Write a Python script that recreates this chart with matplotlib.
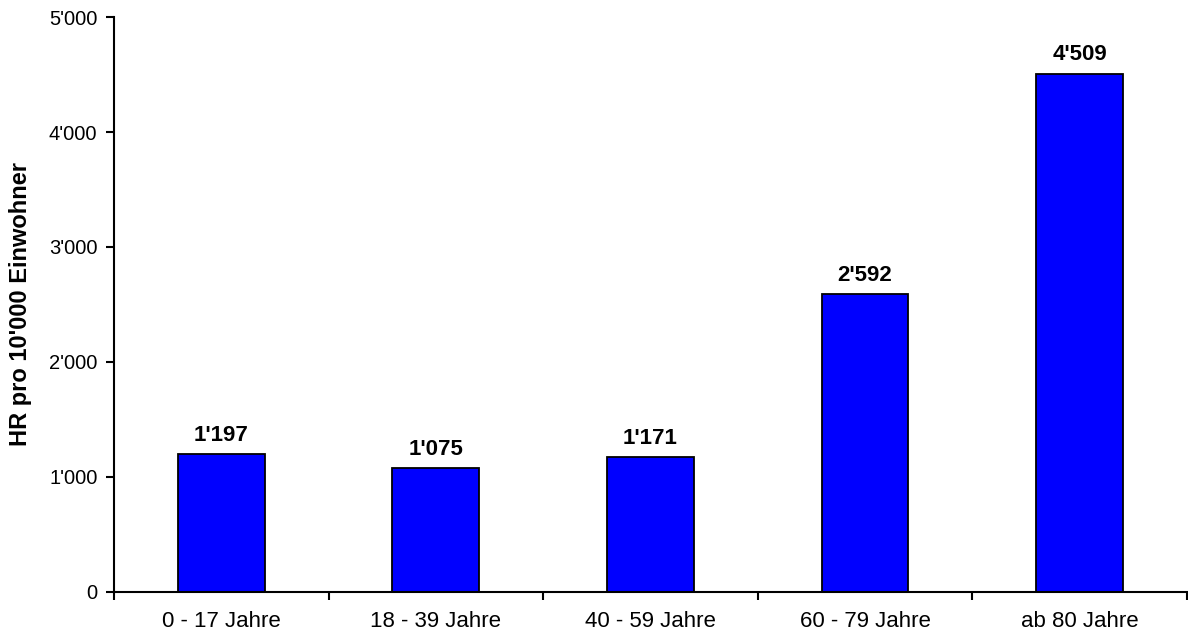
import matplotlib.pyplot as plt
from matplotlib.ticker import FuncFormatter

plt.rcParams['font.family'] = ['Liberation Sans', 'DejaVu Sans']

categories = ['0 - 17 Jahre', '18 - 39 Jahre', '40 - 59 Jahre', '60 - 79 Jahre', 'ab 80 Jahre']
values = [1197, 1075, 1171, 2592, 4509]
yticks = [0, 1000, 2000, 3000, 4000, 5000]


def swiss(v, pos=None):
    # thousands separator as apostrophe
    return '{:,.0f}'.format(v).replace(',', "'")


fig = plt.figure(figsize=(11.88, 6.33), dpi=100)
ax = fig.add_axes([0.096, 0.065, 0.903, 0.908])

x = list(range(len(categories)))
ax.bar(x, values, width=0.405, color='#0000FF', edgecolor='black', linewidth=1.3)

for xi, v in zip(x, values):
    ax.annotate(swiss(v), (xi, v), xytext=(0, 6), textcoords='offset points',
                ha='center', va='bottom', fontsize=16, fontweight='bold')

ax.set_xlim(-0.5, len(categories) - 0.5)
ax.set_ylim(0, 5000)
ax.set_yticks(yticks)
ax.yaxis.set_major_formatter(FuncFormatter(swiss))

# category labels centred, tick marks between categories
ax.set_xticks([i - 0.5 for i in range(len(categories) + 1)])
ax.set_xticklabels([])
ax.set_xticks(x, minor=True)
ax.set_xticklabels(categories, minor=True)
ax.tick_params(axis='x', which='minor', length=0, pad=14, labelsize=16)
ax.tick_params(axis='x', which='major', length=6, width=1.5, direction='out')
ax.tick_params(axis='y', length=6, width=1.5, direction='out', labelsize=14.5, pad=6)

for side in ['top', 'right']:
    ax.spines[side].set_visible(False)
for side in ['left', 'bottom']:
    ax.spines[side].set_linewidth(1.5)

ax.set_ylabel("HR pro 10'000 Einwohner", fontsize=17, fontweight='bold', labelpad=12)

fig.savefig('out.png', dpi=100)
